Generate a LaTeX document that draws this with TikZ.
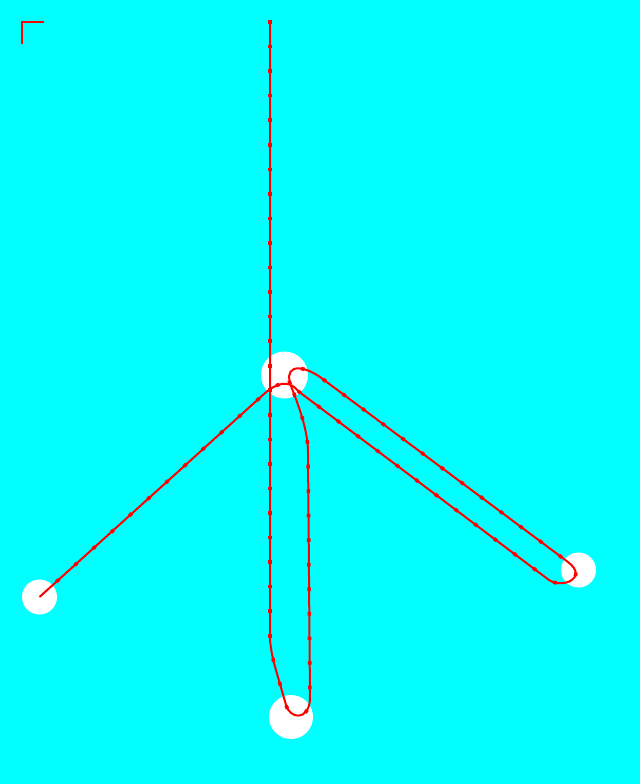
\documentclass[tikz,border=0pt]{standalone}
\usetikzlibrary{decorations.markings}
\definecolor{bgcyan}{RGB}{0,255,255}
\definecolor{wire}{RGB}{255,0,0}
\tikzset{
  hubcircle/.style={circle, fill=white, draw=none, inner sep=0pt},
  wirepath/.style={draw=wire, line width=2pt, line join=round},
  dotsfrom/.style={postaction={decorate, decoration={markings,
      mark=between positions #1 and 1 step 24.55pt with {\fill[wire] (-1.8pt,-1.8pt) rectangle (1.8pt,1.8pt);}}}}
}
\begin{document}
\begin{tikzpicture}[x=1pt,y=-1pt]
\fill[bgcyan] (0,0) rectangle (640,784);
\useasboundingbox (0,0) rectangle (640,784);
% corner mark
\coordinate (cA) at (22,44);
\coordinate (cB) at (22,22);
\coordinate (cC) at (44,22);
\draw[draw=wire, line width=1.6pt] (cA) -- (cB) -- (cC);
% circles
\node[hubcircle, minimum size=47pt] (hub) at (284.5,375) {};
\node[hubcircle, minimum size=44pt] (bottom) at (291,717) {};
\node[hubcircle, minimum size=35pt] (right) at (578.5,570) {};
\node[hubcircle, minimum size=35pt] (left) at (39.5,597) {};
% free ends / waypoints
\coordinate (top) at (270,22);
\coordinate (junction) at (291,386);
% path 1: top -> bottom loop -> hub
\path[wirepath, dotsfrom=0] (top) -- (270,636)
  .. controls (270,652) and (276,670) .. (280,684)
  -- (286,705)
  .. controls (290,719) and (308,721) .. (310,700)
  -- (308,452)
  .. controls (308,430) and (298,404) .. (junction);
% path 2: left -> hub -> right loop -> hub
\path[wirepath, dotsfrom=24.55pt] (left.center) -- (264,394)
  .. controls (276,383) and (289,379) .. (298,391)
  -- (549,580)
  .. controls (562,589) and (589,578) .. (568,562)
  -- (320,377)
  .. controls (310,370) and (300,367) .. (294,369)
  .. controls (288,371) and (288,380) .. (junction);
\end{tikzpicture}
\end{document}
